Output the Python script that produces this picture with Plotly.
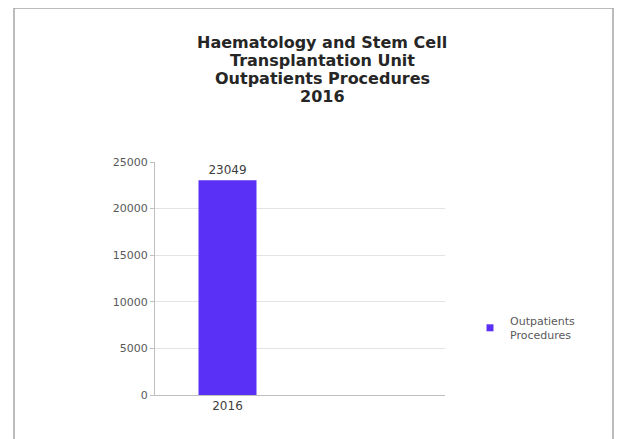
import plotly.graph_objects as go

categories = ["2016"]
values = [23049]
series_name = "Outpatients<br>Procedures"
y_ticks = [0, 5000, 10000, 15000, 20000, 25000]
title_lines = ["Haematology and Stem Cell", "Transplantation Unit",
               "Outpatients Procedures", "2016"]

OFF = 8  # page offset of the figure in the screenshot
W, H = 623, 439
L, T = 155 - OFF, 162 - OFF
pw, ph = 290, 233
R = W - L - pw
B = H - T - ph

def px_x(x):
    return (x - OFF - L) / pw

def px_y(y):
    return (T + ph - (y - OFF)) / ph

TXT = "DejaVu Sans"
fig = go.Figure()
fig.add_trace(go.Bar(
    x=categories, y=values, name=series_name,
    marker=dict(color="#5b30f6", line=dict(width=0)),
    width=0.4,
    text=[str(v) for v in values], textposition="outside",
    textfont=dict(family=TXT, size=12, color="#404040"),
    cliponaxis=False,
    showlegend=False,
))
fig.add_trace(go.Scatter(
    x=[None], y=[None], mode="markers", name=series_name,
    marker=dict(symbol="square", size=7, color="#5b30f6"),
    showlegend=True,
))

title_y = [43, 61, 79, 96]
annotations = [
    dict(text=t, xref="paper", yref="paper", x=px_x(322), y=px_y(yy),
         xanchor="center", yanchor="middle", showarrow=False,
         font=dict(family=TXT, size=16, color="#262626", weight="bold"))
    for t, yy in zip(title_lines, title_y)
]

fig.update_layout(
    width=W, height=H,
    margin=dict(l=L, r=R, t=T, b=B),
    paper_bgcolor="white", plot_bgcolor="white",
    annotations=annotations,
    xaxis=dict(
        type="category", range=[-0.5, 1.5],
        showline=True, linecolor="#bfbfbf", linewidth=1,
        showgrid=False, ticks="",
        tickfont=dict(family=TXT, size=12, color="#404040"),
    ),
    yaxis=dict(
        range=[0, 25000], tickvals=y_ticks, tickformat="d",
        showline=True, linecolor="#bfbfbf", linewidth=1,
        showgrid=True, gridcolor="#e3e3e3", gridwidth=1,
        zeroline=False,
        ticks="outside", ticklen=4, tickcolor="#bfbfbf",
        tickfont=dict(family=TXT, size=11, color="#595959"),
    ),
    legend=dict(
        x=px_x(470), y=px_y(328), xanchor="left", yanchor="middle",
        font=dict(family=TXT, size=11, color="#595959"),
        bgcolor="rgba(0,0,0,0)", itemwidth=30,
    ),
    shapes=[dict(
        type="rect", xref="paper", yref="paper",
        x0=px_x(14), x1=px_x(613), y0=px_y(450), y1=px_y(8),
        line=dict(color="#a6a6a6", width=1.5), fillcolor="rgba(0,0,0,0)",
        layer="below",
    )],
)

fig.write_html("out.html")
